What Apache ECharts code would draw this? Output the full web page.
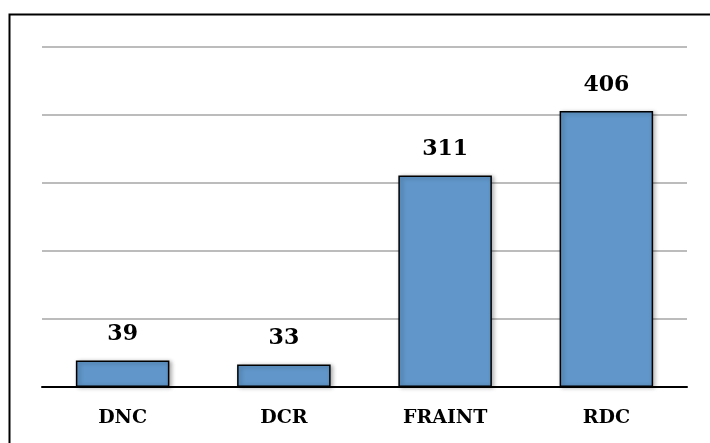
<!DOCTYPE html>
<html>
<head>
<meta charset="utf-8">
<script src="https://cdn.jsdelivr.net/npm/echarts@6/dist/echarts.min.js"></script>
<style>
  html, body { margin: 0; padding: 0; background: #fff; }
  #chart { width: 710px; height: 443px; }
</style>
</head>
<body>
<div id="chart"></div>
<script>
// Categories and their counts
const categories = ['DNC', 'DCR', 'FRAINT', 'RDC'];
const counts = [39, 33, 311, 406];

// Value axis range (gridlines every 100, no tick labels shown)
const axisMin = 0;
const axisMax = 500;
const axisStep = 100;

const fontFamily = '"DejaVu Serif", "Liberation Serif", serif';

const chart = echarts.init(document.getElementById('chart'), null, { renderer: 'canvas' });

chart.setOption({
  backgroundColor: '#ffffff',
  animation: false,
  graphic: [{
    type: 'rect',
    left: 7,
    top: 12,
    shape: { width: 720, height: 450 },
    style: { fill: 'none', stroke: '#000000', lineWidth: 2 },
    z: 100
  }],
  grid: { left: 42, right: 23, top: 47, bottom: 56, containLabel: false },
  xAxis: {
    type: 'category',
    data: categories,
    axisLine: { show: true, lineStyle: { color: '#000000', width: 2 } },
    axisTick: { show: false },
    axisLabel: {
      margin: 22,
      color: '#000000',
      fontFamily: fontFamily,
      fontWeight: 'bold',
      fontSize: 19
    }
  },
  yAxis: {
    type: 'value',
    min: axisMin,
    max: axisMax,
    interval: axisStep,
    axisLine: { show: false },
    axisTick: { show: false },
    axisLabel: { show: false },
    splitLine: { show: true, lineStyle: { color: '#a6a6a6', width: 1.5 } }
  },
  series: [{
    type: 'bar',
    data: counts,
    barCategoryGap: '42%',
    itemStyle: {
      color: '#6096c9',
      borderColor: '#000000',
      borderWidth: 1.5,
      shadowColor: 'rgba(0,0,0,0.3)',
      shadowBlur: 4,
      shadowOffsetX: 2,
      shadowOffsetY: 1
    },
    label: {
      show: true,
      position: 'top',
      distance: 15,
      color: '#000000',
      fontFamily: fontFamily,
      fontWeight: 'bold',
      fontSize: 22
    }
  }]
});
</script>
</body>
</html>
